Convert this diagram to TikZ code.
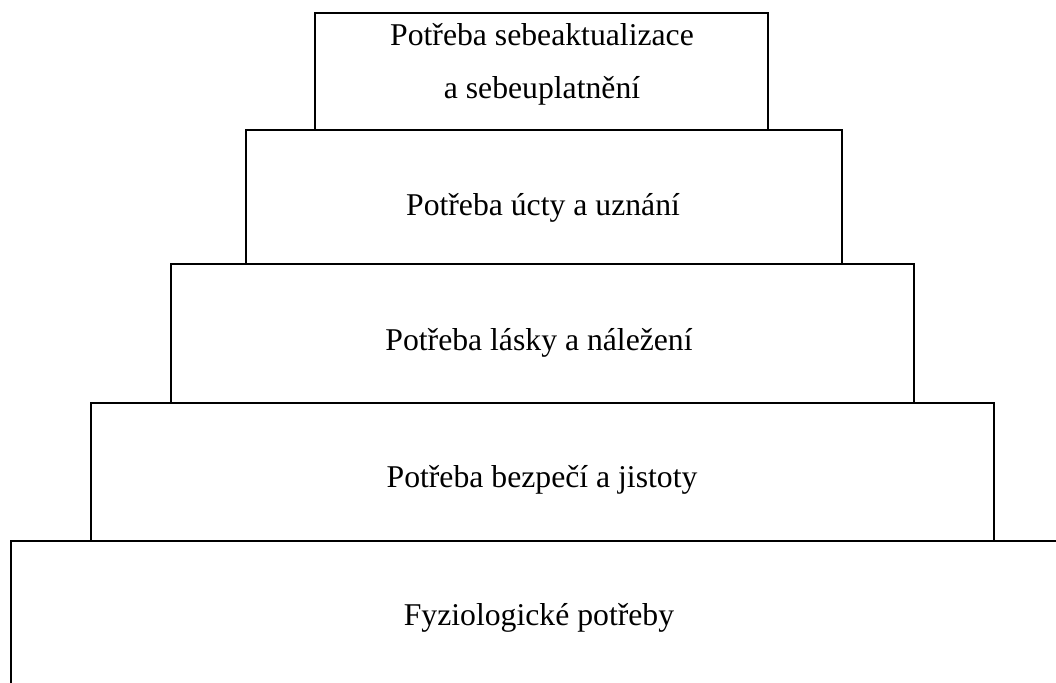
\documentclass[tikz,border=0pt]{standalone}
\usepackage{fontspec}
\setmainfont{Liberation Serif}
\usetikzlibrary{positioning}

\begin{document}
\begin{tikzpicture}[x=1pt,y=-1pt,
	level/.style={draw=black, shape=rectangle, line width=1.6pt, inner sep=0pt, outer sep=0pt, anchor=north west},
	need/.style={anchor=base, inner sep=0pt, font=\fontsize{31.7}{38}\selectfont}]
	\clip (0,0) rectangle (1056,682);

	\node [level, minimum width=453pt, minimum height=117pt] (self) at (315,13) {};
	\node [level, minimum width=596pt, minimum height=134pt] (esteem) at (246,130) {};
	\node [level, minimum width=743pt, minimum height=139pt] (love) at (171,264) {};
	\node [level, minimum width=903pt, minimum height=138pt] (safety) at (91,403) {};
	\node [level, minimum width=1060pt, minimum height=200pt] (body) at (11,541) {};

	\node [need] (selftext) at (542,46) {Potřeba sebeaktualizace};
	\node [need] (selftextb) at (542,99) {a sebeuplatnění};
	\node [need] (esteemtext) at (543,215) {Potřeba úcty a uznání};
	\node [need] (lovetext) at (539,350) {Potřeba lásky a náležení};
	\node [need] (safetytext) at (542,487) {Potřeba bezpečí a jistoty};
	\node [need] (bodytext) at (539,625) {Fyziologické potřeby};
\end{tikzpicture}
\end{document}
